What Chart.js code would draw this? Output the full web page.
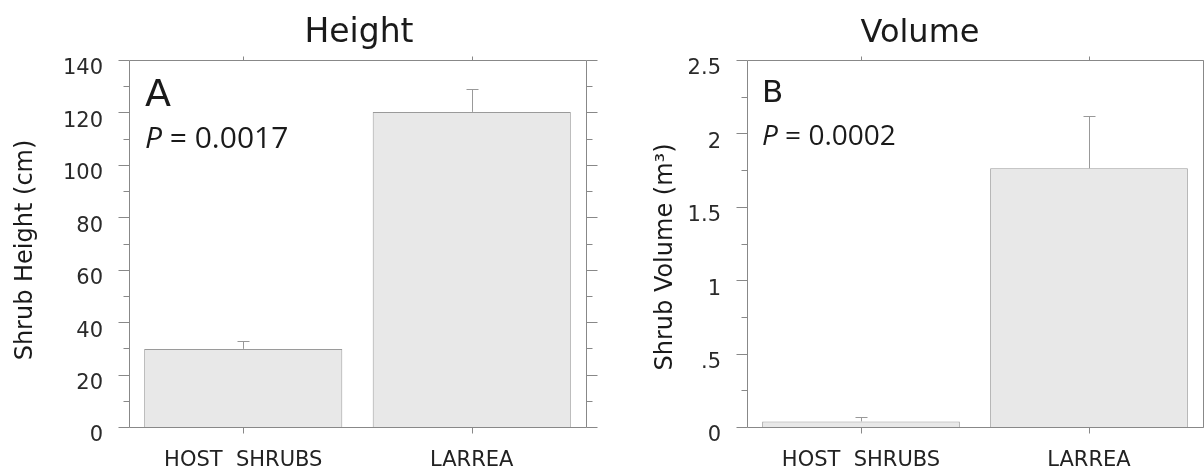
<!DOCTYPE html>
<html><head><meta charset="utf-8">
<script src="https://cdn.jsdelivr.net/npm/chart.js@4"></script>
<style>
html,body{margin:0;padding:0;background:#fff;overflow:hidden}
#wrap{position:relative;width:1204px;height:469px;background:#fff}
.c{position:absolute;top:0;width:602px;height:469px}
</style></head><body>
<div id="wrap">
<div class="c" style="left:0"><canvas id="cA" width="602" height="469"></canvas></div>
<div class="c" style="left:602px"><canvas id="cB" width="602" height="469"></canvas></div>
</div>
<script>
const categories = ['HOST  SHRUBS', 'LARREA'];
const heightMeans = [29.8, 120.2];
const heightErrors = [3.0, 8.8];
const volumeMeans = [0.038, 1.762];
const volumeErrors = [0.027, 0.357];
const heightTickLabels = ['0', '20', '40', '60', '80', '100', '120', '140'];
const volumeTickLabels = ['0', '.5', '1', '1.5', '2', '2.5'];
const panelTitles = ['Height', 'Volume'];
const panelLetters = ['A', 'B'];
const pValues = ['0.0017', '0.0002'];
const yAxisTitles = ['Shrub Height (cm)', 'Shrub Volume (m\u00B3)'];

const AXIS = '#888888';
const TEXT = '#1a1a1a';

const framePlugin = {
  id: 'frame',
  afterDatasetsDraw(chart, args, o) {
    const {ctx, chartArea: a, scales: {x, y}} = chart;
    const px = v => Math.round(v) + 0.5;
    ctx.save();
    ctx.strokeStyle = AXIS;
    ctx.lineWidth = 1;
    ctx.beginPath();
    const L = px(a.left), R = px(a.right), T = px(a.top), B = px(a.bottom);
    ctx.moveTo(L, T); ctx.lineTo(R, T); ctx.lineTo(R, B); ctx.lineTo(L, B); ctx.closePath();
    const n = Math.round((y.max - y.min) / o.minor);
    for (let k = 0; k <= n; k++) {
      const v = y.min + k * o.minor;
      const major = Math.abs(v / o.major - Math.round(v / o.major)) < 1e-6;
      const len = major ? 11 : 6;
      const yy = px(y.getPixelForValue(v));
      ctx.moveTo(L - len, yy); ctx.lineTo(L, yy);
      ctx.moveTo(R, yy); ctx.lineTo(R + len, yy);
    }
    categories.forEach((c, i) => {
      const xx = px(x.getPixelForValue(i));
      ctx.moveTo(xx, T); ctx.lineTo(xx, T - 4);
      ctx.moveTo(xx, B); ctx.lineTo(xx, B + 6);
    });
    ctx.stroke();
    // error bars (upper)
    const meta = chart.getDatasetMeta(0);
    const ds = chart.data.datasets[0];
    ctx.strokeStyle = '#999';
    ctx.beginPath();
    meta.data.forEach((bar, i) => {
      const top = y.getPixelForValue(ds.data[i] + o.errors[i]);
      const xx = px(bar.x);
      ctx.moveTo(xx, bar.y); ctx.lineTo(xx, px(top));
      ctx.moveTo(xx - 6, px(top)); ctx.lineTo(xx + 6, px(top));
    });
    ctx.stroke();
    ctx.restore();
  },
  afterDraw(chart, args, o) {
    const {ctx, chartArea: a} = chart;
    ctx.save();
    ctx.fillStyle = TEXT;
    ctx.textBaseline = 'alphabetic';
    ctx.font = o.titleFont;
    ctx.textAlign = 'center';
    ctx.fillText(o.title, a.left + o.titleDx, o.titleY);
    ctx.textAlign = 'left';
    ctx.font = o.letterFont;
    ctx.fillText(o.letter, a.left + o.textDx, o.letterY);
    ctx.font = 'italic ' + o.pFont;
    ctx.fillText('P', a.left + o.textDx, o.pY);
    const w = ctx.measureText('P').width;
    ctx.font = o.pFont;
    ctx.fillText(' = ' + o.p, a.left + o.textDx + w, o.pY);
    ctx.font = o.yTitleFont;
    ctx.textAlign = 'center';
    ctx.translate(o.yTitleX, o.yTitleY);
    ctx.rotate(-Math.PI / 2);
    ctx.fillText(o.yTitle, 0, 0);
    ctx.restore();
  }
};

function makeChart(id, cfg) {
  return new Chart(document.getElementById(id), {
    type: 'bar',
    data: {
      labels: categories,
      datasets: [{
        data: cfg.means,
        backgroundColor: '#e8e8e8',
        borderColor: '#9a9a9a',
        borderWidth: 1,
        barPercentage: 0.867,
        categoryPercentage: 1
      }]
    },
    options: {
      responsive: false,
      animation: false,
      devicePixelRatio: 1,
      layout: {padding: {left: 0, top: 60, right: cfg.padRight, bottom: 0}},
      plugins: {
        legend: {display: false},
        title: {display: false},
        tooltip: {enabled: false},
        frame: cfg.frame
      },
      scales: {
        x: {
          grid: {display: false, drawTicks: false},
          border: {display: false},
          ticks: {color: '#222', font: {family: 'DejaVu Sans', size: 21}, padding: 21, maxRotation: 0},
          afterFit: s => { s.height = 42; }
        },
        y: {
          min: 0, max: cfg.max,
          grid: {display: false, drawTicks: false},
          border: {display: false},
          ticks: {
            stepSize: cfg.step,
            color: '#2a2a2a',
            font: {family: 'DejaVu Sans', size: 21},
            padding: 26,
            labelOffset: 9,
            callback: (v, i) => cfg.tickLabels[i]
          },
          afterFit: s => { s.width = cfg.yWidth; }
        }
      }
    },
    plugins: [framePlugin]
  });
}

makeChart('cA', {
  means: heightMeans, max: 140, step: 20, tickLabels: heightTickLabels,
  padRight: 16, yWidth: 129,
  frame: {
    major: 20, minor: 10, errors: heightErrors,
    title: panelTitles[0], titleFont: '33px "DejaVu Sans"', titleDx: 230, titleY: 42,
    letter: panelLetters[0], letterFont: '38px "DejaVu Sans"', letterY: 106, textDx: 16,
    p: pValues[0], pFont: '30px "Open Sans"', pY: 148,
    yTitle: yAxisTitles[0], yTitleFont: '24px "DejaVu Sans"', yTitleX: 32, yTitleY: 250
  }
});
makeChart('cB', {
  means: volumeMeans, max: 2.5, step: 0.5, tickLabels: volumeTickLabels,
  padRight: 1, yWidth: 145,
  frame: {
    major: 0.5, minor: 0.25, errors: volumeErrors,
    title: panelTitles[1], titleFont: '32px "DejaVu Sans"', titleDx: 173, titleY: 42,
    letter: panelLetters[1], letterFont: '31px "DejaVu Sans"', letterY: 102, textDx: 15,
    p: pValues[1], pFont: '28px "Open Sans"', pY: 145,
    yTitle: yAxisTitles[1], yTitleFont: '24px "DejaVu Sans"', yTitleX: 70, yTitleY: 257
  }
});
</script>
</body></html>
